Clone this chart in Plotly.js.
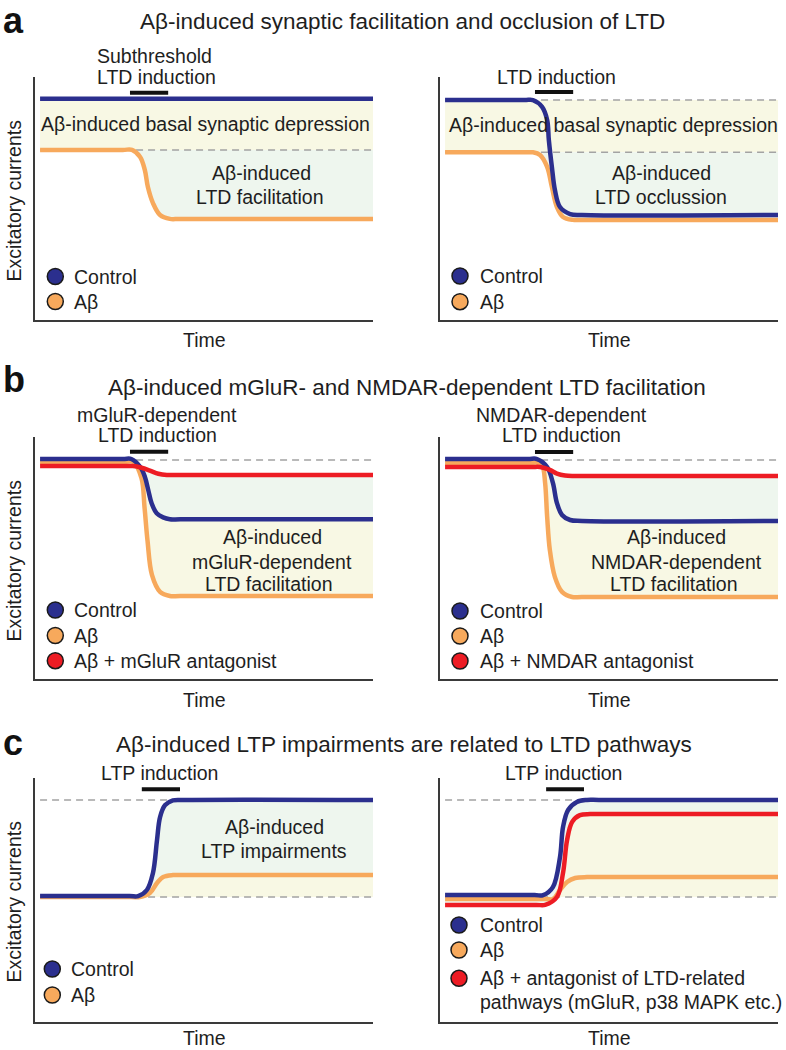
<!DOCTYPE html>
<html>
<head>
<meta charset="utf-8">
<script src="https://cdn.plot.ly/plotly-3.0.1.min.js"></script>
<style>
  html, body { margin: 0; padding: 0; background: #fff; }
  #chart { width: 786px; height: 1050px; }
</style>
</head>
<body>
<div id="chart"></div>
<script>
// Schematic: time (x) and excitatory current (y) in arbitrary units, 0-100 per panel.

// ---- a, left: subthreshold LTD induction ----
const a1CtrlT = [1.5, 100];
const a1CtrlI = [91, 91];
const a1AbT = [1.5, 26, 28.7, 31.1, 32.5, 33.4, 34.9, 37.0, 39.9, 43, 100];
const a1AbI = [70, 70, 70, 67.1, 61.7, 54.7, 48.1, 43.2, 41.6, 41.6, 41.6];
const a1Dashed = [70];
const a1Induction = [28.1, 39.4];

// ---- a, right: LTD induction ----
const a2CtrlT = [1.5, 25, 27.5, 30.2, 31.7, 32.2, 33.1, 34.0, 35.5, 38.5, 42, 100];
const a2CtrlI = [90.5, 90.5, 90.5, 87.7, 82.3, 74.1, 63.0, 53.5, 46.5, 43.6, 43.2, 43.2];
const a2AbT = [1.5, 25, 27.5, 29.6, 31.7, 33.1, 34.6, 36.4, 39.3, 42.5, 100];
const a2AbI = [69, 69, 69, 67.9, 63.0, 54.7, 46.5, 42.4, 41.2, 41.2, 41.2];
const a2Dashed = [90.5, 69];
const a2Induction = [28.1, 39.4];

// ---- b, left: mGluR-dependent LTD ----
const b1CtrlT = [1.5, 26, 28.5, 31.1, 32.5, 33.5, 34.5, 36.0, 37.9, 39.9, 43, 100];
const b1CtrlI = [90.9, 90.9, 90.9, 87.7, 83.6, 78.1, 72.6, 68.5, 66.8, 66.0, 66.0, 66.0];
const b1AbT = [1.5, 26.5, 29, 31.5, 32.4, 33.3, 34.6, 37.0, 39.9, 43, 100];
const b1AbI = [89.7, 89.7, 89.7, 83, 71, 57, 43, 36.0, 34.3, 34.3, 34.3];
const b1AntT = [1.5, 26.5, 29, 31.5, 34, 36.5, 39, 42, 100];
const b1AntI = [88, 88, 88, 87.3, 86.1, 84.8, 84.3, 84.3, 84.3];
const b1Dashed = [90.5];
const b1Induction = [28.1, 39.4];

// ---- b, right: NMDAR-dependent LTD ----
const b2CtrlT = [1.5, 26, 28.7, 31.7, 33.4, 34.6, 36.1, 38.5, 42, 100];
const b2CtrlI = [90.9, 90.9, 90.9, 87.6, 81, 72.7, 67.8, 65.7, 65.3, 65.3];
const b2AbT = [1.5, 26.5, 29.0, 30.3, 31.1, 31.7, 32.5, 34.0, 36.1, 39.1, 42, 100];
const b2AbI = [89.3, 89.3, 89.3, 88.0, 81, 67, 53.3, 42.1, 36, 33.9, 33.9, 33.9];
const b2AntT = [1.5, 27, 29.6, 32.5, 34.6, 37.0, 39.5, 42.5, 100];
const b2AntI = [87.6, 87.6, 87.6, 86.4, 84.9, 84.1, 83.9, 83.9, 83.9];
const b2Dashed = [90.5];
const b2Induction = [28.1, 39.4];

// ---- c, left: LTP ----
const c1CtrlT = [1.5, 28, 30.5, 33.1, 34.9, 36.1, 37.0, 38.5, 40.8, 44, 100];
const c1CtrlI = [51.6, 51.6, 51.6, 54.1, 61.1, 74.6, 84.0, 88.9, 90.8, 91, 91];
const c1AbT = [1.5, 28.5, 31.0, 34.0, 36.1, 37.9, 40.8, 44, 100];
const c1AbI = [51.2, 51.2, 51.2, 52.9, 57.0, 59.4, 60.2, 60.2, 60.2];
const c1Dashed = [91, 51.2];
const c1Induction = [31.6, 42.9];

// ---- c, right: LTP with LTD-pathway antagonist ----
const c2CtrlT = [1.5, 28, 30.5, 33.4, 35.5, 36.4, 37.9, 40.5, 43.5, 47, 100];
const c2CtrlI = [52, 52, 52, 55.3, 67.6, 79.9, 86.9, 90.2, 91, 91, 91];
const c2AbT = [1.5, 31, 33.4, 35.5, 37.6, 40.0, 43.5, 47, 100];
const c2AbI = [50.4, 50.4, 50.4, 54.1, 57.4, 59.0, 59.4, 59.4, 59.4];
const c2AntT = [1.5, 28.5, 31.1, 34.6, 36.4, 37.6, 39.1, 41.4, 44.4, 48, 100];
const c2AntI = [48, 48, 48, 51.2, 61.1, 74.6, 82.0, 84.8, 85.2, 85.2, 85.2];
const c2Dashed = [91, 51.2];
const c2Induction = [31.4, 42.6];

// legend labels
const legendTwo = ['Control', 'Aβ'];
const legendB1 = ['Control', 'Aβ', 'Aβ + mGluR antagonist'];
const legendB2 = ['Control', 'Aβ', 'Aβ + NMDAR antagonist'];
const legendC2 = ['Control', 'Aβ', 'Aβ + antagonist of LTD-related<br>pathways (mGluR, p38 MAPK etc.)'];

// ---------- styling ----------
const W = 786, H = 1050;
const fx = px => px / W;
const fy = py => 1 - py / H;

const FONT = 'Liberation Sans, Arial, Helvetica, sans-serif';
const INK = '#1e1e1e';
const BLUE = '#2b2f8e', ORANGE = '#f7a95c', RED = '#ed1c24';
const GREEN_FILL = '#eef6ee', YELLOW_FILL = '#f8f8e4';
const LEGEND_COLORS = [BLUE, ORANGE, RED];

const traces = [];
const shapes = [];
const annotations = [];

const layout = {
    width: W, height: H,
    margin: { l: 0, r: 0, t: 0, b: 0 },
    paper_bgcolor: '#ffffff',
    plot_bgcolor: 'rgba(0,0,0,0)',
    showlegend: false,
    font: { family: FONT, size: 19.5, color: INK },
    shapes: shapes,
    annotations: annotations
};

const axisStyle = {
    range: [0, 100],
    showline: true, linecolor: '#3a3a3a', linewidth: 1.6,
    showgrid: false, zeroline: false,
    showticklabels: false, ticks: '',
    fixedrange: true
};

function note(text, x, y, extra) {
    annotations.push(Object.assign({
        text: text, x: x, y: y, showarrow: false,
        xanchor: 'center', yanchor: 'middle',
        font: { family: FONT, size: 19.5, color: INK }
    }, extra));
}

const level = (T, v) => [[T[0], T[T.length - 1]], [v, v]];

function addPanel(p) {
    const sfx = p.n === 1 ? '' : String(p.n);
    const xa = 'x' + sfx, ya = 'y' + sfx;
    const [l, r, t, b] = p.box;

    layout['xaxis' + sfx] = Object.assign({ domain: [fx(l), fx(r)], anchor: ya }, axisStyle);
    layout['yaxis' + sfx] = Object.assign({ domain: [fy(b), fy(t)], anchor: xa }, axisStyle);

    const base = { xaxis: xa, yaxis: ya, mode: 'lines', hoverinfo: 'skip', showlegend: false };

    // shaded bands between two boundaries
    p.fills.forEach(([lower, upper, color]) => {
        traces.push(Object.assign({}, base, {
            x: lower[0], y: lower[1],
            line: { width: 0, shape: 'spline', smoothing: 1 }
        }));
        traces.push(Object.assign({}, base, {
            x: upper[0], y: upper[1], fill: 'tonexty', fillcolor: color,
            line: { width: 0, shape: 'spline', smoothing: 1 }
        }));
    });

    // dashed reference levels
    p.dashed.forEach(v => {
        const [lx, ly] = level(p.series[0].t, v);
        traces.push(Object.assign({}, base, {
            x: lx, y: ly,
            line: { color: '#a3a3a3', width: 1.5, dash: '7px,5px' }
        }));
    });

    // curves
    p.series.forEach(s => {
        traces.push(Object.assign({}, base, {
            x: s.t, y: s.i, name: s.name,
            line: { color: s.color, width: 4.5, shape: 'spline', smoothing: 1 }
        }));
    });

    // induction bar
    shapes.push({
        type: 'line', xref: xa, yref: ya,
        x0: p.induction[0], x1: p.induction[1], y0: p.barY, y1: p.barY,
        line: { color: '#111111', width: 4 }
    });

    // in-panel labels (domain refs so text above the axis top is still drawn)
    p.labels.forEach(([text, x, y]) => note(text, x / 100, y / 100, {
        xref: xa + ' domain', yref: ya + ' domain'
    }));

    // x-axis title
    note('Time', fx((l + r) / 2), fy(p.timeY), { xref: 'paper', yref: 'paper' });

    // legend: circle keys + text
    p.legend.labels.forEach((label, k) => {
        const cy = p.legend.ys[k];
        shapes.push({
            type: 'circle', xref: 'paper', yref: 'paper',
            xsizemode: 'pixel', ysizemode: 'pixel',
            xanchor: fx(p.legend.cx), yanchor: fy(cy),
            x0: -8, x1: 8, y0: -8, y1: 8,
            fillcolor: LEGEND_COLORS[k],
            line: { color: '#1a1a1a', width: 1.5 }
        });
        label.split('<br>').forEach((line, j) => {
            note(line, fx(p.legend.tx), fy(cy + j * 23.4), { xref: 'paper', yref: 'paper', xanchor: 'left' });
        });
    });
}

// ---------- panels ----------
addPanel({
    n: 1, box: [35, 373, 77, 320], timeY: 340, barY: 93.5, induction: a1Induction,
    series: [
        { t: a1CtrlT, i: a1CtrlI, color: BLUE, name: 'Control' },
        { t: a1AbT, i: a1AbI, color: ORANGE, name: 'Aβ' }
    ],
    fills: [
        [level(a1AbT, a1Dashed[0]), [a1CtrlT, a1CtrlI], YELLOW_FILL],
        [[a1AbT, a1AbI], level(a1AbT, a1Dashed[0]), GREEN_FILL]
    ],
    dashed: a1Dashed,
    labels: [
        ['Subthreshold', 35.5, 108.5],
        ['LTD induction', 35.8, 100.2],
        ['Aβ-induced basal synaptic depression', 50.3, 80.8],
        ['Aβ-induced', 66.9, 60.6],
        ['LTD facilitation', 66.6, 50.6]
    ],
    legend: { labels: legendTwo, cx: 55.3, tx: 71.7, ys: [276.5, 301.5] }
});

addPanel({
    n: 2, box: [440, 778, 77, 320], timeY: 340, barY: 93.8, induction: a2Induction,
    series: [
        { t: a2AbT, i: a2AbI, color: ORANGE, name: 'Aβ' },
        { t: a2CtrlT, i: a2CtrlI, color: BLUE, name: 'Control' }
    ],
    fills: [
        [level(a2CtrlT, a2Dashed[1]), level(a2CtrlT, a2Dashed[0]), YELLOW_FILL],
        [[a2AbT, a2AbI], level(a2AbT, a2Dashed[1]), GREEN_FILL]
    ],
    dashed: a2Dashed,
    labels: [
        ['LTD induction', 34.6, 100],
        ['Aβ-induced basal synaptic depression', 51.2, 80.1],
        ['Aβ-induced', 65.4, 60.5],
        ['LTD occlussion', 65.4, 50.6]
    ],
    legend: { labels: legendTwo, cx: 460, tx: 478, ys: [276, 301.7] }
});

addPanel({
    n: 3, box: [35, 373, 437, 679], timeY: 700, barY: 93.9, induction: b1Induction,
    series: [
        { t: b1AbT, i: b1AbI, color: ORANGE, name: 'Aβ' },
        { t: b1CtrlT, i: b1CtrlI, color: BLUE, name: 'Control' },
        { t: b1AntT, i: b1AntI, color: RED, name: 'Aβ + mGluR antagonist' }
    ],
    fills: [
        [[b1CtrlT, b1CtrlI], [b1AntT, b1AntI], GREEN_FILL],
        [[b1AbT, b1AbI], [b1CtrlT, b1CtrlI], YELLOW_FILL]
    ],
    dashed: b1Dashed,
    labels: [
        ['mGluR-dependent', 36.1, 109.1],
        ['LTD induction', 36.1, 100.8],
        ['Aβ-induced', 70.3, 58.8],
        ['mGluR-dependent', 70.1, 48.5],
        ['LTD facilitation', 69.2, 39.4]
    ],
    legend: { labels: legendB1, cx: 55.3, tx: 71.7, ys: [610, 635.5, 660.7] }
});

addPanel({
    n: 4, box: [440, 778, 437, 679], timeY: 700, barY: 93.8, induction: b2Induction,
    series: [
        { t: b2AbT, i: b2AbI, color: ORANGE, name: 'Aβ' },
        { t: b2CtrlT, i: b2CtrlI, color: BLUE, name: 'Control' },
        { t: b2AntT, i: b2AntI, color: RED, name: 'Aβ + NMDAR antagonist' }
    ],
    fills: [
        [[b2CtrlT, b2CtrlI], [b2AntT, b2AntI], GREEN_FILL],
        [[b2AbT, b2AbI], [b2CtrlT, b2CtrlI], YELLOW_FILL]
    ],
    dashed: b2Dashed,
    labels: [
        ['NMDAR-dependent', 36.0, 109.1],
        ['LTD induction', 35.8, 100.8],
        ['Aβ-induced', 70.0, 58.8],
        ['NMDAR-dependent', 70.1, 48.5],
        ['LTD facilitation', 69.1, 39.4]
    ],
    legend: { labels: legendB2, cx: 460, tx: 478, ys: [611, 636, 661] }
});

addPanel({
    n: 5, box: [35, 373, 778, 1022], timeY: 1038, barY: 95.4, induction: c1Induction,
    series: [
        { t: c1AbT, i: c1AbI, color: ORANGE, name: 'Aβ' },
        { t: c1CtrlT, i: c1CtrlI, color: BLUE, name: 'Control' }
    ],
    fills: [
        [level(c1AbT, c1Dashed[1]), [c1AbT, c1AbI], YELLOW_FILL],
        [[c1AbT, c1AbI], [c1CtrlT, c1CtrlI], GREEN_FILL]
    ],
    dashed: c1Dashed,
    labels: [
        ['LTP induction', 36.7, 101.9],
        ['Aβ-induced', 70.9, 79.9],
        ['LTP impairments', 70.7, 70.0]
    ],
    legend: { labels: legendTwo, cx: 52.3, tx: 69.3, ys: [969, 995] }
});

addPanel({
    n: 6, box: [440, 778, 778, 1022], timeY: 1038, barY: 95.4, induction: c2Induction,
    series: [
        { t: c2AbT, i: c2AbI, color: ORANGE, name: 'Aβ' },
        { t: c2CtrlT, i: c2CtrlI, color: BLUE, name: 'Control' },
        { t: c2AntT, i: c2AntI, color: RED, name: 'Aβ + antagonist' }
    ],
    fills: [
        [level(c2AntT, c2Dashed[1]), [c2AntT, c2AntI], YELLOW_FILL],
        [[c2AntT, c2AntI], [c2CtrlT, c2CtrlI], GREEN_FILL]
    ],
    dashed: c2Dashed,
    labels: [
        ['LTP induction', 36.5, 101.9]
    ],
    legend: { labels: legendC2, cx: 459, tx: 478, ys: [925, 950, 978.3] }
});

// ---------- row titles, panel letters, y-axis titles ----------
const rowTitles = [
    ['Aβ-induced synaptic facilitation and occlusion of LTD', 403, 21],
    ['Aβ-induced mGluR- and NMDAR-dependent LTD facilitation', 406.5, 387],
    ['Aβ-induced LTP impairments are related to LTD pathways', 404, 744.5]
];
rowTitles.forEach(([text, x, y]) => note(text, fx(x), fy(y), {
    xref: 'paper', yref: 'paper', font: { family: FONT, size: 22.5, color: INK }
}));

[['a', 20.5], ['b', 379.5], ['c', 742.5]].forEach(([letter, y]) => note(letter, fx(1), fy(y), {
    xref: 'paper', yref: 'paper', xanchor: 'left',
    font: { family: 'Liberation Sans Narrow, Liberation Sans, Arial, sans-serif', size: 36, color: '#111111', weight: 'bold' }
}));

[201, 561, 902].forEach(y => note('Excitatory currents', fx(13.5), fy(y), {
    xref: 'paper', yref: 'paper', textangle: -90
}));

Plotly.newPlot('chart', traces, layout, { displayModeBar: false, staticPlot: true });
</script>
</body>
</html>
